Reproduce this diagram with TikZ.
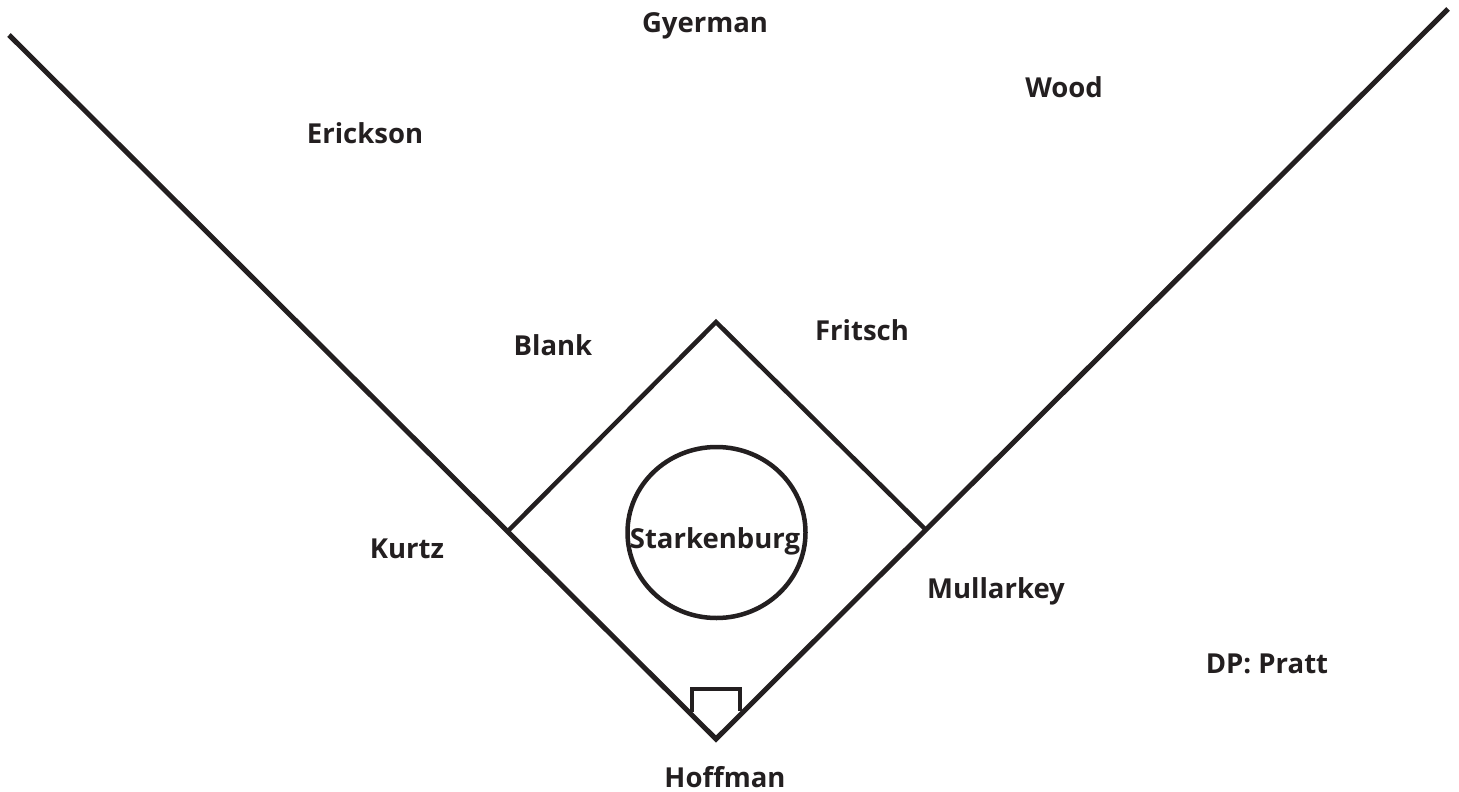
\documentclass[tikz,border=0pt]{standalone}
\usepackage{fontspec}
\setmainfont{Open Sans}
\begin{document}
\begin{tikzpicture}[x=1pt,y=-1pt,
  ink/.style={draw=fgc,line width=5pt},
  inkthin/.style={draw=fgc,line width=4.5pt},
  lbl/.style={anchor=base,inner sep=0pt,text=fgc,font=\bfseries\fontsize{27.5}{29}\selectfont}]
\definecolor{fgc}{HTML}{231F20}
\useasboundingbox (0,0) rectangle (1459,792);
% field corners
\coordinate (lf) at (9,35);
\coordinate (rf) at (1448,9);
\coordinate (home) at (716,739);
\coordinate (first) at (925,529);
\coordinate (third) at (509,530);
\coordinate (second) at (716,322);
% foul lines
\draw[ink,line join=miter] (lf) -- (home) -- (rf);
% diamond
\draw[inkthin] (third) -- (second) -- (first);
% pitcher circle
\draw[inkthin] (716.5,532.5) ellipse (89 and 85.5);
% home plate
\coordinate (p1) at (692,712);
\coordinate (p2) at (692,689);
\coordinate (p3) at (740,689);
\coordinate (p4) at (740,711);
\draw[inkthin,line join=miter] (p1) -- (p2) -- (p3) -- (p4);
% labels
\node[lbl] (gyerman) at (705,33) {Gyerman};
\node[lbl] (wood) at (1064,97) {Wood};
\node[lbl] (erickson) at (365,143) {Erickson};
\node[lbl] (blank) at (553,355) {Blank};
\node[lbl] (fritsch) at (862,340) {Fritsch};
\node[lbl] (kurtz) at (407,558) {Kurtz};
\node[lbl] (stark) at (715,548) {Starkenburg};
\node[lbl] (mull) at (996,598) {Mullarkey};
\node[lbl] (dp) at (1267,673) {DP: Pratt};
\node[lbl] (hoff) at (725,787) {Hoffman};
\end{tikzpicture}
\end{document}
